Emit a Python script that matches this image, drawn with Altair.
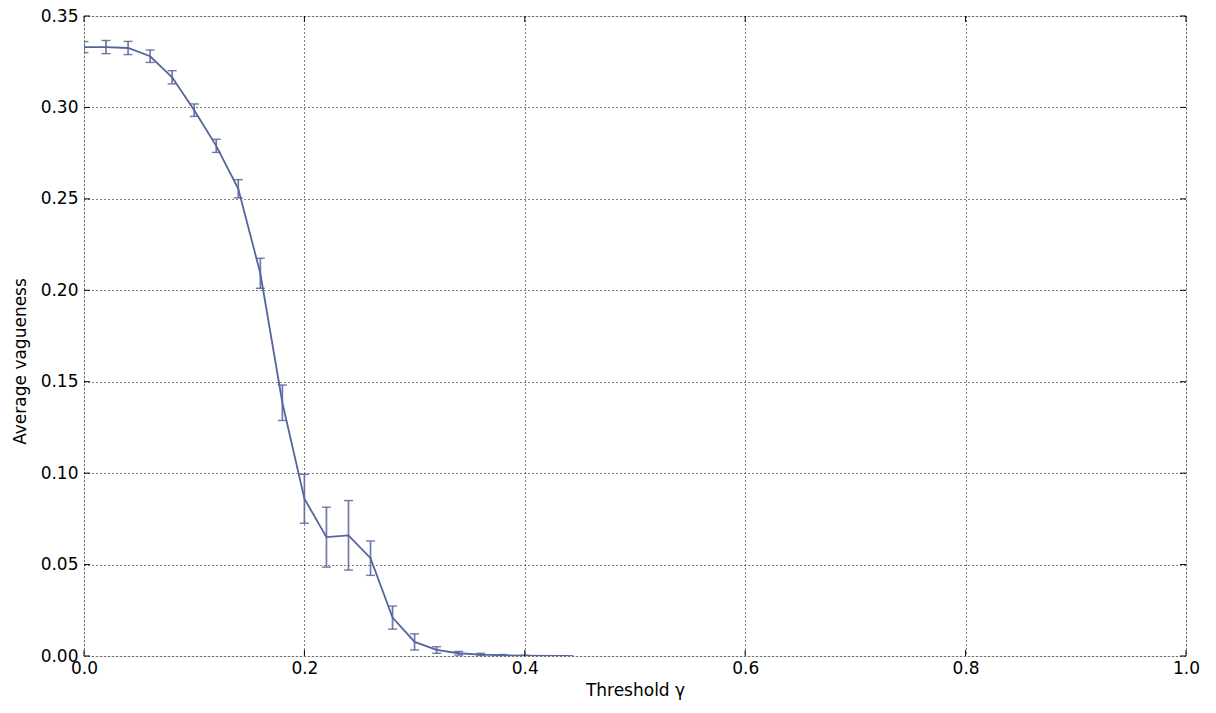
import altair as alt
import pandas as pd

thresholds = [0.00, 0.02, 0.04, 0.06, 0.08, 0.10, 0.12, 0.14, 0.16, 0.18,
              0.20, 0.22, 0.24, 0.26, 0.28, 0.30, 0.32, 0.34, 0.36, 0.38,
              0.40, 0.42, 0.44]
vagueness = [0.3330, 0.3330, 0.3325, 0.3280, 0.3165, 0.2985, 0.2790, 0.2555,
             0.2093, 0.1385, 0.0860, 0.0650, 0.0660, 0.0535, 0.0210, 0.0077,
             0.0033, 0.0015, 0.0008, 0.0004, 0.0002, 0.0001, 0.0000]
errors = [0.0030, 0.0036, 0.0036, 0.0034, 0.0036, 0.0034, 0.0036, 0.0050,
          0.0082, 0.0097, 0.0134, 0.0164, 0.0190, 0.0094, 0.0063, 0.0044,
          0.0018, 0.0010, 0.0007, 0.0004, 0.0002, 0.0001, 0.0000]

x_ticks = [0.0, 0.2, 0.4, 0.6, 0.8, 1.0]
y_ticks = [0.00, 0.05, 0.10, 0.15, 0.20, 0.25, 0.30, 0.35]

df = pd.DataFrame({
    "t": thresholds,
    "v": vagueness,
    "lo": [v - e for v, e in zip(vagueness, errors)],
    "hi": [v + e for v, e in zip(vagueness, errors)],
})

W, H = 1102, 640
COLOR = "#56649c"
FONT = "DejaVu Sans"
FS = 17

xs = alt.Scale(domain=[0, 1], nice=False, zero=False)
ys = alt.Scale(domain=[0, 0.35], nice=False, zero=False)

xaxis = alt.Axis(values=x_ticks, format=".1f", grid=True, gridDash=[1, 3],
                 gridColor="black", gridOpacity=1, gridWidth=1, ticks=False,
                 labelPadding=4, labelFontSize=FS, labelFont=FONT,
                 labelColor="black", title="Threshold γ", titleFontSize=FS,
                 titleFont=FONT, titleFontWeight="normal", titleColor="black",
                 titlePadding=6, domain=False, labelFlush=False)
yaxis = alt.Axis(values=y_ticks, format=".2f", grid=True, gridDash=[1, 3],
                 gridColor="black", gridOpacity=1, gridWidth=1, ticks=False,
                 labelPadding=6, labelFontSize=FS, labelFont=FONT,
                 labelColor="black", title="Average vagueness", titleFontSize=FS,
                 titleFont=FONT, titleFontWeight="normal", titleColor="black",
                 titlePadding=11, titleY=345, domain=False, labelFlush=False)

base = alt.Chart(df)

line = base.mark_line(color=COLOR, strokeWidth=1.8, clip=True).encode(
    x=alt.X("t:Q", scale=xs, axis=xaxis),
    y=alt.Y("v:Q", scale=ys, axis=yaxis),
)
bars = base.mark_rule(color=COLOR, strokeWidth=1.7, opacity=0.85, clip=True).encode(
    x="t:Q", y="lo:Q", y2="hi:Q"
)
cap_lo = base.mark_tick(color=COLOR, thickness=1.4, size=9, orient="horizontal",
                        opacity=0.85, clip=True).encode(x="t:Q", y="lo:Q")
cap_hi = base.mark_tick(color=COLOR, thickness=1.4, size=9, orient="horizontal",
                        opacity=0.85, clip=True).encode(x="t:Q", y="hi:Q")

xt = pd.DataFrame({"t": x_ticks})
yt = pd.DataFrame({"v": y_ticks})
tick_len = 6
xb = alt.Chart(xt).mark_rule(color="black", strokeWidth=1).encode(
    x="t:Q", y=alt.value(H), y2=alt.value(H - tick_len))
xtop = alt.Chart(xt).mark_rule(color="black", strokeWidth=1).encode(
    x="t:Q", y=alt.value(0), y2=alt.value(tick_len))
yl = alt.Chart(yt).mark_rule(color="black", strokeWidth=1).encode(
    y="v:Q", x=alt.value(0), x2=alt.value(tick_len))
yr = alt.Chart(yt).mark_rule(color="black", strokeWidth=1).encode(
    y="v:Q", x=alt.value(W), x2=alt.value(W - tick_len))

chart = alt.layer(line, bars, cap_lo, cap_hi, xb, xtop, yl, yr).properties(
    width=W, height=H,
    autosize=alt.AutoSizeParams(type="none"),
    padding={"left": 76, "top": 8, "right": 20, "bottom": 60},
).configure_view(stroke="black", strokeWidth=1.6).configure(background="white")

chart.save("out.html", embed_options={"renderer": "svg", "actions": False})
